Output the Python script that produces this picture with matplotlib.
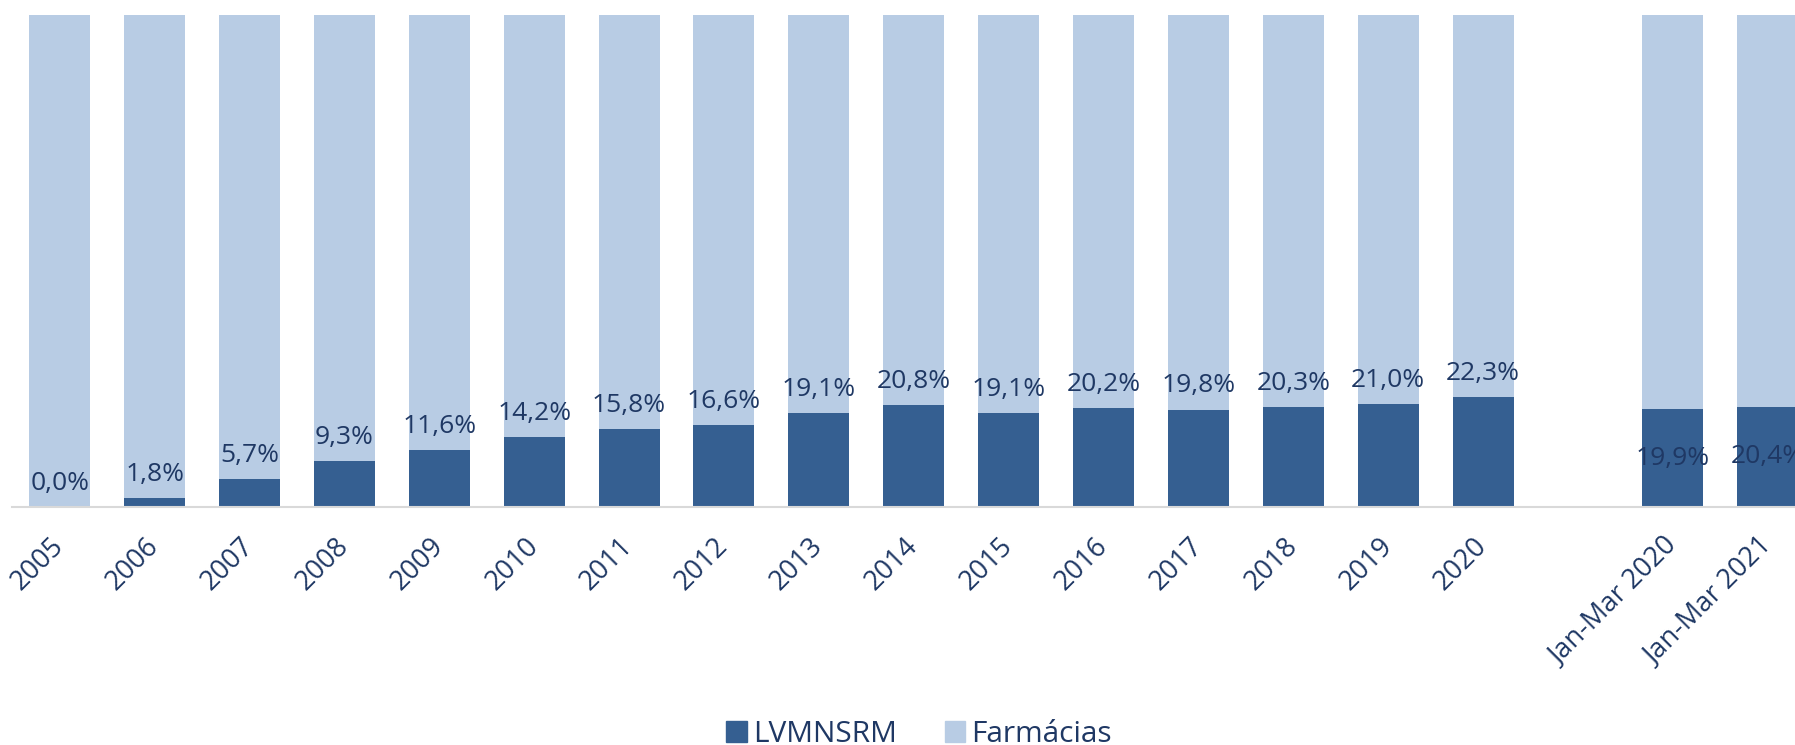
import matplotlib
matplotlib.use("Agg")
import matplotlib.pyplot as plt
from matplotlib.patches import Patch

plt.rcParams['font.family'] = ['Open Sans', 'DejaVu Sans']

# categorias e valores (% do mercado)
categories = ['2005', '2006', '2007', '2008', '2009', '2010', '2011', '2012',
              '2013', '2014', '2015', '2016', '2017', '2018', '2019', '2020',
              'Jan-Mar 2020', 'Jan-Mar 2021']
lvmnsrm = [0.0, 1.8, 5.7, 9.3, 11.6, 14.2, 15.8, 16.6, 19.1, 20.8,
           19.1, 20.2, 19.8, 20.3, 21.0, 22.3, 19.9, 20.4]
farmacias = [100.0, 98.2, 94.3, 90.7, 88.4, 85.8, 84.2, 83.4, 80.9, 79.2,
             80.9, 79.8, 80.2, 79.7, 79.0, 77.7, 80.1, 79.6]

DARK = '#355f91'
LIGHT = '#b8cce4'
TEXT = '#1f3864'

# anos seguidos, depois um espaço antes dos trimestres
pos = list(range(16)) + [17, 18]

fig = plt.figure(figsize=(17.95, 7.45), dpi=100)
ax = fig.add_axes([12.25 / 1795, 238 / 745, 1803 / 1795, 492 / 745])

ax.bar(pos, lvmnsrm, width=0.643, color=DARK, zorder=2)
ax.bar(pos, farmacias, width=0.643, bottom=lvmnsrm, color=LIGHT, zorder=2)

for i, (x, v) in enumerate(zip(pos, lvmnsrm)):
    txt = f"{v:.1f}".replace('.', ',') + '%'
    if categories[i].startswith('Jan'):
        ax.text(x, v / 2, txt, ha='center', va='center', fontsize=19, color=TEXT, zorder=3)
    else:
        ax.annotate(txt, (x, v), xytext=(0, 17), textcoords='offset points',
                    ha='center', va='center', fontsize=19, color=TEXT, zorder=3)

ax.set_xlim(-0.5, 18.5)
ax.set_ylim(0, 100)
ax.set_xticks(pos)
ax.set_xticklabels(categories, rotation=45, ha='right', va='center',
                   rotation_mode='anchor', fontsize=19.5, color=TEXT)
ax.tick_params(axis='x', length=0, pad=25)
ax.set_yticks([])
for s in ['top', 'left', 'right']:
    ax.spines[s].set_visible(False)
ax.spines['bottom'].set_color('#d9d9d9')
ax.spines['bottom'].set_linewidth(1.5)

handles = [Patch(color=DARK, label='LVMNSRM'), Patch(color=LIGHT, label='Farmácias')]
fig.legend(handles=handles, loc='center', bbox_to_anchor=(919 / 1795, 11 / 745),
           ncol=2, frameon=False, fontsize=21.5, labelcolor=TEXT,
           handlelength=0.7, handleheight=0.7, handletextpad=0.2,
           columnspacing=1.6, borderpad=0)

fig.savefig('out.png', dpi=100)
